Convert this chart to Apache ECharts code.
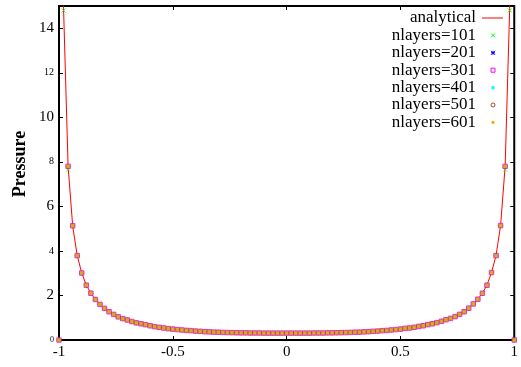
<!DOCTYPE html>
<html>
<head>
<meta charset="utf-8">
<script src="https://cdn.jsdelivr.net/npm/echarts@6/dist/echarts.min.js"></script>
<style>html,body{margin:0;padding:0;background:#fff}#c{width:521px;height:367px}</style>
</head>
<body>
<div id="c"></div>
<script>
// x positions of the sampled points
var xValues = [-1.00,-0.98,-0.96,-0.94,-0.92,-0.90,-0.88,-0.86,-0.84,-0.82,-0.80,-0.78,-0.76,-0.74,-0.72,-0.70,-0.68,-0.66,-0.64,-0.62,-0.60,-0.58,-0.56,-0.54,-0.52,-0.50,-0.48,-0.46,-0.44,-0.42,-0.40,-0.38,-0.36,-0.34,-0.32,-0.30,-0.28,-0.26,-0.24,-0.22,-0.20,-0.18,-0.16,-0.14,-0.12,-0.10,-0.08,-0.06,-0.04,-0.02,0.00,0.02,0.04,0.06,0.08,0.10,0.12,0.14,0.16,0.18,0.20,0.22,0.24,0.26,0.28,0.30,0.32,0.34,0.36,0.38,0.40,0.42,0.44,0.46,0.48,0.50,0.52,0.54,0.56,0.58,0.60,0.62,0.64,0.66,0.68,0.70,0.72,0.74,0.76,0.78,0.80,0.82,0.84,0.86,0.88,0.90,0.92,0.94,0.96,0.98,1.00];

// analytical curve x positions and values
var analyticalX = [-0.99,-0.98,-0.96,-0.94,-0.92,-0.90,-0.88,-0.86,-0.84,-0.82,-0.80,-0.78,-0.76,-0.74,-0.72,-0.70,-0.68,-0.66,-0.64,-0.62,-0.60,-0.58,-0.56,-0.54,-0.52,-0.50,-0.48,-0.46,-0.44,-0.42,-0.40,-0.38,-0.36,-0.34,-0.32,-0.30,-0.28,-0.26,-0.24,-0.22,-0.20,-0.18,-0.16,-0.14,-0.12,-0.10,-0.08,-0.06,-0.04,-0.02,0.00,0.02,0.04,0.06,0.08,0.10,0.12,0.14,0.16,0.18,0.20,0.22,0.24,0.26,0.28,0.30,0.32,0.34,0.36,0.38,0.40,0.42,0.44,0.46,0.48,0.50,0.52,0.54,0.56,0.58,0.60,0.62,0.64,0.66,0.68,0.70,0.72,0.74,0.76,0.78,0.80,0.82,0.84,0.86,0.88,0.90,0.92,0.94,0.96,0.98,0.99];
var analytical = [30,14.9,7.80,5.13,3.79,3.01,2.46,2.10,1.82,1.60,1.42,1.27,1.15,1.04,0.96,0.90,0.83,0.77,0.73,0.69,0.64,0.60,0.57,0.54,0.51,0.49,0.47,0.45,0.43,0.42,0.40,0.39,0.375,0.365,0.355,0.35,0.34,0.335,0.33,0.325,0.32,0.32,0.315,0.315,0.315,0.31,0.31,0.31,0.31,0.31,0.31,0.31,0.31,0.31,0.31,0.31,0.315,0.315,0.315,0.32,0.32,0.325,0.33,0.335,0.34,0.35,0.355,0.365,0.375,0.39,0.40,0.42,0.43,0.45,0.47,0.49,0.52,0.54,0.57,0.61,0.64,0.69,0.73,0.78,0.84,0.91,0.97,1.05,1.15,1.27,1.43,1.62,1.83,2.10,2.46,3.03,3.79,5.14,7.80,14.9,30];

// numerical results
var n101 = [0,14.8,7.65,5.13,3.79,3.01,2.46,2.10,1.82,1.60,1.42,1.27,1.15,1.04,0.96,0.90,0.83,0.77,0.73,0.69,0.64,0.60,0.57,0.54,0.51,0.49,0.47,0.45,0.43,0.42,0.40,0.39,0.375,0.365,0.355,0.35,0.34,0.335,0.33,0.325,0.32,0.32,0.315,0.315,0.315,0.31,0.31,0.31,0.31,0.31,0.31,0.31,0.31,0.31,0.31,0.31,0.315,0.315,0.315,0.32,0.32,0.325,0.33,0.335,0.34,0.35,0.355,0.365,0.375,0.39,0.40,0.42,0.43,0.45,0.47,0.49,0.52,0.54,0.57,0.61,0.64,0.69,0.73,0.78,0.84,0.91,0.97,1.05,1.15,1.27,1.43,1.62,1.83,2.10,2.46,3.03,3.79,5.14,7.65,14.8,0];
var n201 = [0,15.4,7.80,5.13,3.79,3.01,2.46,2.10,1.82,1.60,1.42,1.27,1.15,1.04,0.96,0.90,0.83,0.77,0.73,0.69,0.64,0.60,0.57,0.54,0.51,0.49,0.47,0.45,0.43,0.42,0.40,0.39,0.375,0.365,0.355,0.35,0.34,0.335,0.33,0.325,0.32,0.32,0.315,0.315,0.315,0.31,0.31,0.31,0.31,0.31,0.31,0.31,0.31,0.31,0.31,0.31,0.315,0.315,0.315,0.32,0.32,0.325,0.33,0.335,0.34,0.35,0.355,0.365,0.375,0.39,0.40,0.42,0.43,0.45,0.47,0.49,0.52,0.54,0.57,0.61,0.64,0.69,0.73,0.78,0.84,0.91,0.97,1.05,1.15,1.27,1.43,1.62,1.83,2.10,2.46,3.03,3.79,5.14,7.80,15.4,0];
var n301 = [0,15.4,7.80,5.13,3.79,3.01,2.46,2.10,1.82,1.60,1.42,1.27,1.15,1.04,0.96,0.90,0.83,0.77,0.73,0.69,0.64,0.60,0.57,0.54,0.51,0.49,0.47,0.45,0.43,0.42,0.40,0.39,0.375,0.365,0.355,0.35,0.34,0.335,0.33,0.325,0.32,0.32,0.315,0.315,0.315,0.31,0.31,0.31,0.31,0.31,0.31,0.31,0.31,0.31,0.31,0.31,0.315,0.315,0.315,0.32,0.32,0.325,0.33,0.335,0.34,0.35,0.355,0.365,0.375,0.39,0.40,0.42,0.43,0.45,0.47,0.49,0.52,0.54,0.57,0.61,0.64,0.69,0.73,0.78,0.84,0.91,0.97,1.05,1.15,1.27,1.43,1.62,1.83,2.10,2.46,3.03,3.79,5.14,7.80,15.4,0];
var n401 = [0,15.4,7.80,5.13,3.79,3.01,2.46,2.10,1.82,1.60,1.42,1.27,1.15,1.04,0.96,0.90,0.83,0.77,0.73,0.69,0.64,0.60,0.57,0.54,0.51,0.49,0.47,0.45,0.43,0.42,0.40,0.39,0.375,0.365,0.355,0.35,0.34,0.335,0.33,0.325,0.32,0.32,0.315,0.315,0.315,0.31,0.31,0.31,0.31,0.31,0.31,0.31,0.31,0.31,0.31,0.31,0.315,0.315,0.315,0.32,0.32,0.325,0.33,0.335,0.34,0.35,0.355,0.365,0.375,0.39,0.40,0.42,0.43,0.45,0.47,0.49,0.52,0.54,0.57,0.61,0.64,0.69,0.73,0.78,0.84,0.91,0.97,1.05,1.15,1.27,1.43,1.62,1.83,2.10,2.46,3.03,3.79,5.14,7.80,15.4,0];
var n501 = [0,15.4,7.80,5.13,3.79,3.01,2.46,2.10,1.82,1.60,1.42,1.27,1.15,1.04,0.96,0.90,0.83,0.77,0.73,0.69,0.64,0.60,0.57,0.54,0.51,0.49,0.47,0.45,0.43,0.42,0.40,0.39,0.375,0.365,0.355,0.35,0.34,0.335,0.33,0.325,0.32,0.32,0.315,0.315,0.315,0.31,0.31,0.31,0.31,0.31,0.31,0.31,0.31,0.31,0.31,0.31,0.315,0.315,0.315,0.32,0.32,0.325,0.33,0.335,0.34,0.35,0.355,0.365,0.375,0.39,0.40,0.42,0.43,0.45,0.47,0.49,0.52,0.54,0.57,0.61,0.64,0.69,0.73,0.78,0.84,0.91,0.97,1.05,1.15,1.27,1.43,1.62,1.83,2.10,2.46,3.03,3.79,5.14,7.80,15.4,0];
var n601 = [0,15.4,7.80,5.13,3.79,3.01,2.46,2.10,1.82,1.60,1.42,1.27,1.15,1.04,0.96,0.90,0.83,0.77,0.73,0.69,0.64,0.60,0.57,0.54,0.51,0.49,0.47,0.45,0.43,0.42,0.40,0.39,0.375,0.365,0.355,0.35,0.34,0.335,0.33,0.325,0.32,0.32,0.315,0.315,0.315,0.31,0.31,0.31,0.31,0.31,0.31,0.31,0.31,0.31,0.31,0.31,0.315,0.315,0.315,0.32,0.32,0.325,0.33,0.335,0.34,0.35,0.355,0.365,0.375,0.39,0.40,0.42,0.43,0.45,0.47,0.49,0.52,0.54,0.57,0.61,0.64,0.69,0.73,0.78,0.84,0.91,0.97,1.05,1.15,1.27,1.43,1.62,1.83,2.10,2.46,3.03,3.79,5.14,7.80,15.4,0];

var seriesNames = ['analytical','nlayers=101','nlayers=201','nlayers=301','nlayers=401','nlayers=501','nlayers=601'];
var seriesColors = ['#ff0000','#00ff00','#0000ff','#ff00ff','#00ffff','#a0522d','#ffa500'];
var xTicks = [-1, -0.5, 0, 0.5, 1];
var yTicks = [0, 2, 4, 6, 8, 10, 12, 14];
var yLabel = 'Pressure';

function pairs(xs, ys) { return xs.map(function (x, i) { return [x, ys[i]]; }); }

var FONT = 'Liberation Serif';
var chart = echarts.init(document.getElementById('c'), null, {renderer: 'canvas'});
var bigLabels = {2: 1, 6: 1, 10: 1, 14: 1};

// legend drawn as graphic (text right-aligned, sample to the right)
var LX = 476, LY0 = 18, LDY = 17.4, SX = 493;
var legendEls = [];
seriesNames.forEach(function (name, i) {
  var y = LY0 + LDY * i;
  legendEls.push({type: 'text', x: LX, y: y, style: {text: name, font: '17px "Liberation Serif"', fill: '#000', align: 'right', verticalAlign: 'middle'}});
  var c = seriesColors[i];
  if (i === 0) legendEls.push({type: 'line', shape: {x1: 482, y1: y, x2: 503, y2: y}, style: {stroke: c, lineWidth: 1}});
  if (i === 1) {
    legendEls.push({type: 'line', shape: {x1: SX - 2, y1: y - 2, x2: SX + 2, y2: y + 2}, style: {stroke: c, lineWidth: 1}});
    legendEls.push({type: 'line', shape: {x1: SX + 2, y1: y - 2, x2: SX - 2, y2: y + 2}, style: {stroke: c, lineWidth: 1}});
  }
  if (i === 2) {
    legendEls.push({type: 'line', shape: {x1: SX - 2, y1: y - 2, x2: SX + 2, y2: y + 2}, style: {stroke: c, lineWidth: 1}});
    legendEls.push({type: 'line', shape: {x1: SX + 2, y1: y - 2, x2: SX - 2, y2: y + 2}, style: {stroke: c, lineWidth: 1}});
    legendEls.push({type: 'line', shape: {x1: SX - 2, y1: y, x2: SX + 2, y2: y}, style: {stroke: c, lineWidth: 1}});
    legendEls.push({type: 'line', shape: {x1: SX, y1: y - 2, x2: SX, y2: y + 2}, style: {stroke: c, lineWidth: 1}});
  }
  if (i === 3) legendEls.push({type: 'rect', shape: {x: SX - 2, y: y - 2, width: 4, height: 4}, style: {stroke: c, fill: 'none', lineWidth: 1}});
  if (i === 4) legendEls.push({type: 'rect', shape: {x: SX - 1.5, y: y - 1.5, width: 3, height: 3}, style: {fill: c}});
  if (i === 5) legendEls.push({type: 'circle', shape: {cx: SX, cy: y, r: 2}, style: {stroke: c, fill: 'none', lineWidth: 1}});
  if (i === 6) legendEls.push({type: 'circle', shape: {cx: SX, cy: y, r: 1.6}, style: {fill: c}});
});

var tickStyle = {show: true, inside: true, length: 4, lineStyle: {color: '#000', width: 1}};
chart.setOption({
  animation: false,
  backgroundColor: '#fff',
  grid: {left: 59, right: 1, top: 6, bottom: 27, show: true, borderColor: '#000', borderWidth: 2, backgroundColor: 'transparent'},
  xAxis: [{
    type: 'value', min: -1, max: 1, interval: 0.5, position: 'bottom',
    axisLine: {show: false, onZero: false}, axisTick: tickStyle, splitLine: {show: false},
    axisLabel: {margin: 5, color: '#000', fontFamily: FONT, fontSize: 15,
      formatter: function (v) { return xTicks.indexOf(v) >= 0 ? String(v) : ''; }}
  }, {
    type: 'value', min: -1, max: 1, interval: 0.5, position: 'top',
    axisLine: {show: false, onZero: false}, axisTick: tickStyle, splitLine: {show: false}, axisLabel: {show: false}
  }],
  yAxis: [{
    type: 'value', min: 0, max: 15, interval: 2, position: 'left',
    axisLine: {show: false, onZero: false}, axisTick: tickStyle, splitLine: {show: false},
    axisLabel: {margin: 5, color: '#000', fontFamily: FONT,
      formatter: function (v) {
        if (yTicks.indexOf(v) < 0) return '';
        if (v === 0) return '{z|0}';
        return bigLabels[v] ? '{b|' + v + '}' : '{s|' + v + '}';
      },
      rich: {
        b: {fontSize: 15, fontFamily: FONT, color: '#000'},
        s: {fontSize: 10, fontFamily: FONT, color: '#000'},
        z: {fontSize: 8, fontFamily: FONT, color: '#000'}
      }}
  }, {
    type: 'value', min: 0, max: 15, interval: 2, position: 'right',
    axisLine: {show: false, onZero: false}, axisTick: tickStyle, splitLine: {show: false}, axisLabel: {show: false}
  }],
  graphic: [{
    type: 'text', x: 20, y: 164, rotation: Math.PI / 2,
    style: {text: yLabel, font: 'bold 18px "Liberation Serif"', fill: '#000', align: 'center', verticalAlign: 'middle'}
  }].concat(legendEls),
  series: [
    {name: seriesNames[0], type: 'line', data: pairs(analyticalX, analytical), symbol: 'none', showSymbol: false,
     lineStyle: {color: seriesColors[0], width: 1}, itemStyle: {color: seriesColors[0]}, z: 1, clip: true},
    {name: seriesNames[1], type: 'scatter', data: pairs(xValues, n101), symbol: 'path://M0,0L10,10M10,0L0,10', symbolSize: 4,
     itemStyle: {color: 'transparent', borderColor: seriesColors[1], borderWidth: 1}, z: 2, clip: true},
    {name: seriesNames[2], type: 'scatter', data: pairs(xValues, n201), symbol: 'path://M5,0L5,10M0,5L10,5M1.5,1.5L8.5,8.5M8.5,1.5L1.5,8.5', symbolSize: 4,
     itemStyle: {color: 'transparent', borderColor: seriesColors[2], borderWidth: 1}, z: 3, clip: true},
    {name: seriesNames[3], type: 'scatter', data: pairs(xValues, n301), symbol: 'rect', symbolSize: 4.5,
     itemStyle: {color: 'transparent', borderColor: seriesColors[3], borderWidth: 1}, z: 4, clip: true},
    {name: seriesNames[4], type: 'scatter', data: pairs(xValues, n401), symbol: 'rect', symbolSize: 3,
     itemStyle: {color: seriesColors[4]}, z: 5, clip: true},
    {name: seriesNames[5], type: 'scatter', data: pairs(xValues, n501), symbol: 'circle', symbolSize: 4,
     itemStyle: {color: 'transparent', borderColor: seriesColors[5], borderWidth: 1}, z: 6, clip: true},
    {name: seriesNames[6], type: 'scatter', data: pairs(xValues, n601), symbol: 'rect', symbolSize: 3.6,
     itemStyle: {color: seriesColors[6]}, z: 7, clip: true}
  ]
});
</script>
</body>
</html>
